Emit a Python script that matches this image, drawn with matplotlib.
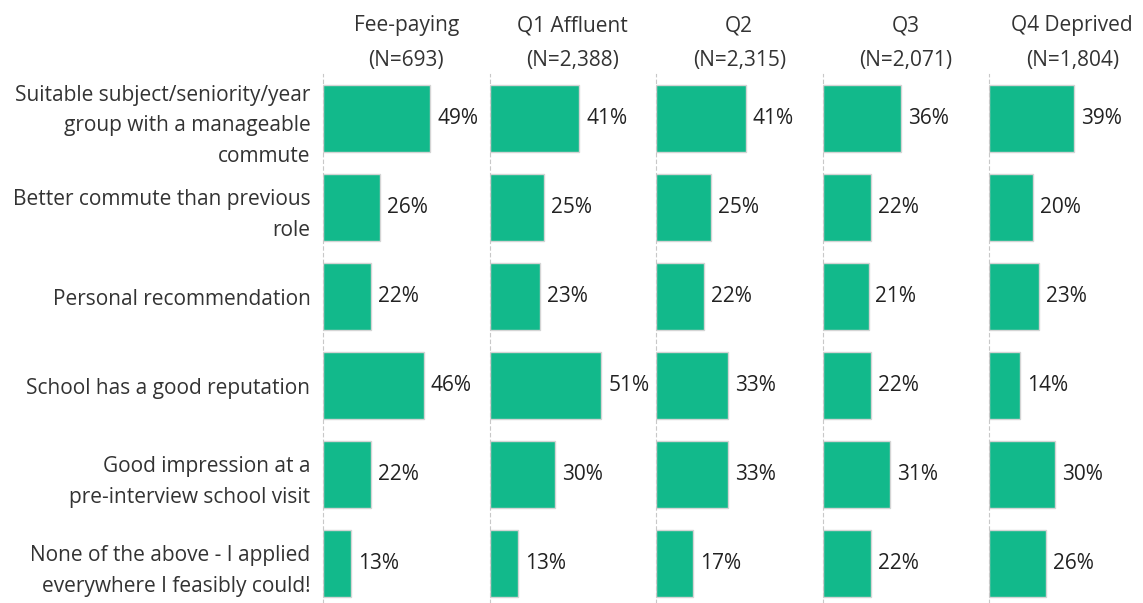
import matplotlib.pyplot as plt

categories = [
    "Suitable subject/seniority/year\ngroup with a manageable\ncommute",
    "Better commute than previous\nrole",
    "Personal recommendation",
    "School has a good reputation",
    "Good impression at a\npre-interview school visit",
    "None of the above - I applied\neverywhere I feasibly could!",
]
groups = ["Fee-paying\n(N=693)", "Q1 Affluent\n(N=2,388)", "Q2\n(N=2,315)",
          "Q3\n(N=2,071)", "Q4 Deprived\n(N=1,804)"]
fee_paying = [49, 26, 22, 46, 22, 13]
q1_affluent = [41, 25, 23, 51, 30, 13]
q2 = [41, 25, 22, 33, 33, 17]
q3 = [36, 22, 21, 22, 31, 22]
q4_deprived = [39, 20, 23, 14, 30, 26]
series = [fee_paying, q1_affluent, q2, q3, q4_deprived]

plt.rcParams['font.family'] = ['Open Sans', 'DejaVu Sans']

W, H = 1143, 603
fig = plt.figure(figsize=(W / 100, H / 100), dpi=100)

green = "#12b98b"
text_col = "#222222"
left0 = 323
step = 166.5
top = 74
bottom = H

ypos = list(range(len(categories)))
for i, (g, vals) in enumerate(zip(groups, series)):
    x0 = left0 + i * step
    ax = fig.add_axes([x0 / W, 0, step / W, (bottom - top) / H])
    ax.barh(ypos, vals, height=0.75, color=green, edgecolor="#d4d4d4", linewidth=1)
    ax.set_xlim(0, 76)
    ax.set_ylim(5.44, -0.5)
    for y, v in zip(ypos, vals):
        ax.annotate(f"{v}%", (v, y), xytext=(5, 0), textcoords="offset points",
                    va="center", ha="left", fontsize=15, color=text_col)
    for s in ["top", "right", "bottom"]:
        ax.spines[s].set_visible(False)
    ax.spines["left"].set_color("#c8c8c8")
    ax.spines["left"].set_linestyle((0, (3, 3)))
    ax.spines["left"].set_linewidth(0.8)
    ax.set_xticks([])
    ax.set_title(g, fontsize=15, color="#333333", linespacing=1.85, pad=6)
    if i == 0:
        ax.set_yticks(ypos)
        ax.set_yticklabels(categories, fontsize=15, color="#333333", linespacing=1.62)
        ax.tick_params(axis="y", length=0, pad=9)
    else:
        ax.set_yticks([])

fig.savefig("out.png", dpi=100)
